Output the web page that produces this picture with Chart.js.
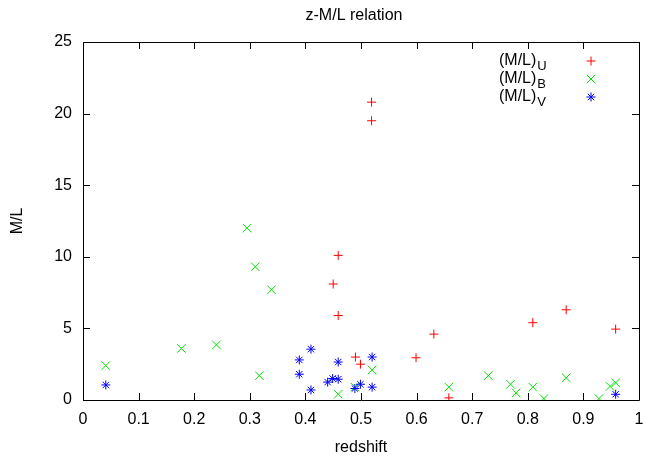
<!DOCTYPE html>
<html>
<head>
<meta charset="utf-8">
<script src="https://cdn.jsdelivr.net/npm/chart.js@4.4.1/dist/chart.umd.min.js"></script>
<style>
html,body{margin:0;padding:0;background:#fff;}
#wrap{width:646px;height:464px;position:relative;}
</style>
</head>
<body>
<div id="wrap"><canvas id="c" width="646" height="464"></canvas></div>
<script>
// ---- data ----
const chartTitle = "z-M/L relation";
const xTitle = "redshift";
const yTitle = "M/L";
const xTicks = [0,0.1,0.2,0.3,0.4,0.5,0.6,0.7,0.8,0.9,1];
const yTicks = [0,5,10,15,20,25];
const seriesNames = ["(M/L)", "(M/L)", "(M/L)"];
const seriesSubs = ["U", "B", "V"];

const uZ  = [0.519,0.519,0.459,0.450,0.459,0.631,0.599,0.490,0.499,0.658,0.809,0.869,0.958];
const uML = [20.8,19.5,10.1,8.1,5.9,4.6,2.95,3.0,2.5,0.15,5.4,6.3,4.95];
const bZ  = [0.295,0.310,0.339,0.177,0.240,0.041,0.317,0.520,0.459,0.489,0.658,0.729,0.769,0.779,0.809,0.829,0.869,0.928,0.948,0.958];
const bML = [12.0,9.3,7.7,3.6,3.85,2.4,1.7,2.1,0.4,0.9,0.9,1.7,1.1,0.5,0.9,0.1,1.55,0.1,0.95,1.2];
const vZ  = [0.041,0.410,0.389,0.389,0.410,0.459,0.520,0.520,0.440,0.449,0.459,0.489,0.499,0.958];
const vML = [1.05,3.55,2.8,1.8,0.7,2.65,3.0,0.9,1.25,1.5,1.45,0.8,1.1,0.4];

const FONT = '"Liberation Sans", Arial, Helvetica, sans-serif';
const colors = ['#ff0000', '#00e000', '#0000ff'];
const styles = ['cross', 'crossRot', 'star'];
const radii = [4.5, 6, 4.5];

function pts(xs, ys){ return xs.map((x,i)=>({x:x, y:ys[i]})); }

const framePlugin = {
  id: 'frame',
  afterDatasetsDraw(chart){
    const ctx = chart.ctx, a = chart.chartArea;
    const xs = chart.scales.x, ys = chart.scales.y;
    ctx.save();
    ctx.strokeStyle = '#000';
    ctx.lineWidth = 1;
    ctx.beginPath();
    ctx.rect(Math.round(a.left)+0.5, Math.round(a.top)+0.5, Math.round(a.right-a.left), Math.round(a.bottom-a.top));
    ctx.stroke();
    const tl = 7;
    ctx.beginPath();
    xTicks.forEach(v=>{
      const px = Math.round(xs.getPixelForValue(v))+0.5;
      ctx.moveTo(px, a.bottom); ctx.lineTo(px, a.bottom - tl);
      ctx.moveTo(px, a.top); ctx.lineTo(px, a.top + tl);
    });
    yTicks.forEach(v=>{
      const py = Math.round(ys.getPixelForValue(v))+0.5;
      ctx.moveTo(a.left, py); ctx.lineTo(a.left + tl, py);
      ctx.moveTo(a.right, py); ctx.lineTo(a.right - tl, py);
    });
    ctx.stroke();

    // title
    ctx.fillStyle = '#000';
    ctx.font = '16px ' + FONT;
    ctx.textAlign = 'center';
    ctx.textBaseline = 'middle';
    ctx.fillText(chartTitle, (a.left + a.right)/2 - 7, 16);
    // x title
    ctx.fillText(xTitle, (a.left + a.right)/2, 448);
    // y title
    ctx.save();
    ctx.translate(18, (a.top + a.bottom)/2);
    ctx.rotate(-Math.PI/2);
    ctx.fillText(yTitle, 0, 0);
    ctx.restore();

    // legend
    const rowY = [61, 79, 97];
    chart.data.datasets.forEach((ds, i)=>{
      const y = rowY[i];
      ctx.font = '16px ' + FONT;
      ctx.textAlign = 'left';
      ctx.textBaseline = 'middle';
      ctx.fillStyle = '#000';
      ctx.fillText(seriesNames[i], 499, y);
      const w = ctx.measureText(seriesNames[i]).width;
      ctx.font = '13px ' + FONT;
      ctx.fillText(seriesSubs[i], 499 + w + 1, y + 5);
      ctx.fillStyle = colors[i];
      ctx.strokeStyle = colors[i];
      ctx.lineWidth = 1;
      Chart.helpers.drawPoint(ctx, {pointStyle: styles[i], radius: radii[i], borderWidth: 1, rotation: 0}, 591, y);
    });
    ctx.restore();
  }
};

const cfg = {
  type: 'scatter',
  data: {
    datasets: [
      {label: seriesNames[0]+seriesSubs[0], data: pts(uZ, uML), pointStyle: styles[0], pointRadius: radii[0], borderColor: colors[0], backgroundColor: colors[0], borderWidth: 1, order: 2},
      {label: seriesNames[1]+seriesSubs[1], data: pts(bZ, bML), pointStyle: styles[1], pointRadius: radii[1], borderColor: colors[1], backgroundColor: colors[1], borderWidth: 1, order: 1},
      {label: seriesNames[2]+seriesSubs[2], data: pts(vZ, vML), pointStyle: styles[2], pointRadius: radii[2], borderColor: colors[2], backgroundColor: colors[2], borderWidth: 1, order: 0}
    ]
  },
  options: {
    responsive: false,
    animation: false,
    events: [],
    layout: {padding: {top: 42, right: 5, left: 0, bottom: 0}},
    plugins: {legend: {display: false}, title: {display: false}, tooltip: {enabled: false}},
    scales: {
      x: {
        type: 'linear', min: 0, max: 1,
        afterBuildTicks(s){ s.ticks = xTicks.map(v=>({value:v})); },
        afterFit(s){ s.height = 64; s.paddingLeft = 0; s.paddingRight = 0; },
        grid: {display: false, drawTicks: false},
        border: {display: false},
        ticks: {color: '#000', font: {family: FONT, size: 16}, padding: 10, maxRotation: 0, autoSkip: false,
          callback: v => String(Math.round(v*10)/10)}
      },
      y: {
        type: 'linear', min: 0, max: 25,
        afterBuildTicks(s){ s.ticks = yTicks.map(v=>({value:v})); },
        afterFit(s){ s.width = 83; s.paddingTop = 0; s.paddingBottom = 0; },
        grid: {display: false, drawTicks: false},
        border: {display: false},
        ticks: {color: '#000', font: {family: FONT, size: 16}, padding: 11, autoSkip: false}
      }
    }
  },
  plugins: [framePlugin]
};
new Chart(document.getElementById('c'), cfg);
</script>
</body>
</html>
